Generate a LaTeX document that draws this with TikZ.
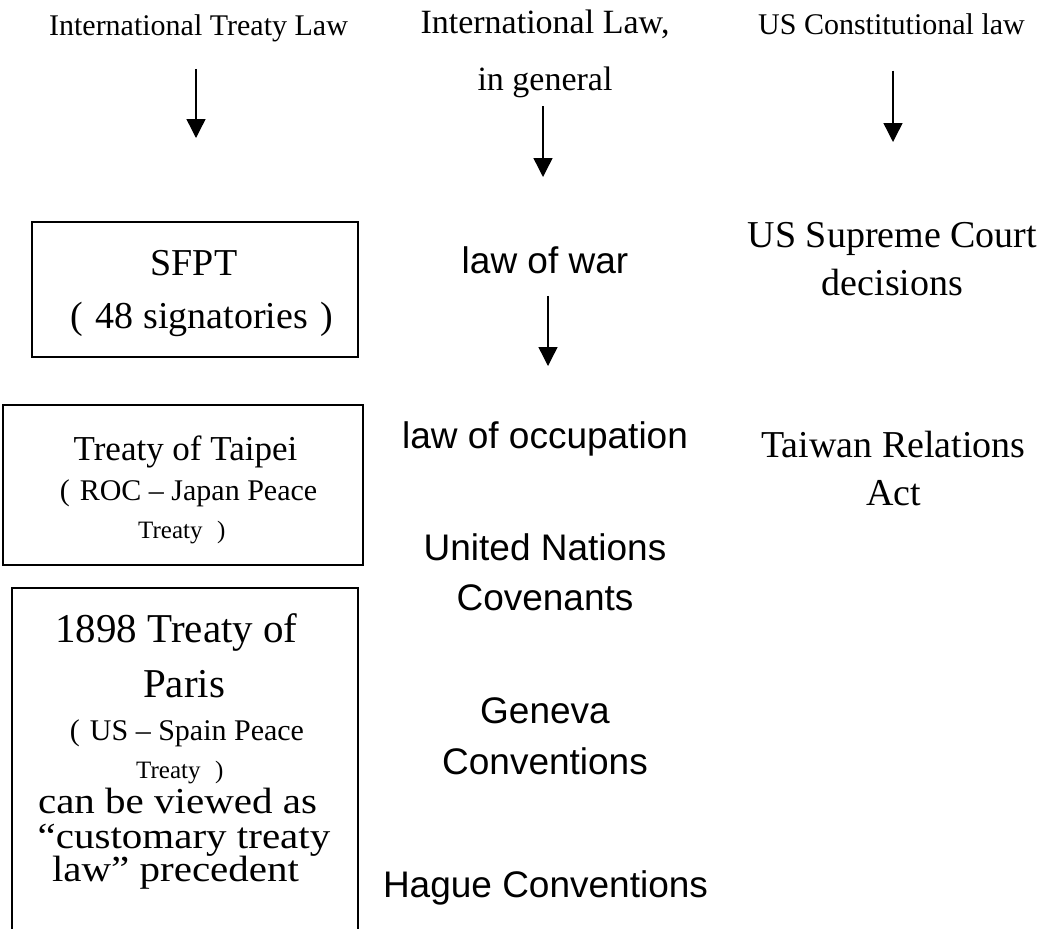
\documentclass[tikz,border=0pt]{standalone}
\usepackage{fontspec}
\setmainfont{Liberation Serif}
\newfontfamily\arialfont{Liberation Sans}
\newfontfamily\wideserif[FakeStretch=1.12]{Liberation Serif}
\usetikzlibrary{arrows.meta}
\newcommand{\fwl}{\makebox[1em]{(}}
\newcommand{\fwr}{\makebox[1em]{)}}

\begin{document}
\begin{tikzpicture}
[x=0.5pt,y=-0.5pt,>={Triangle[width=9.5pt,length=9.5pt]},
txt/.style={inner sep=0pt,anchor=base},
hd/.style={txt,font=\fontsize{15}{18}\selectfont},
hdbig/.style={txt,font=\fontsize{17}{20}\selectfont},
mid/.style={txt,font=\arialfont\fontsize{18.5}{22}\selectfont},
rgt/.style={txt,font=\fontsize{19}{23}\selectfont},
tpa/.style={txt,font=\fontsize{17.5}{21}\selectfont},
small/.style={txt,font=\fontsize{15}{18}\selectfont},
tiny/.style={txt,font=\fontsize{12.5}{15}\selectfont},
par/.style={txt,font=\fontsize{20.5}{24}\selectfont},
wide/.style={txt,font=\wideserif\fontsize{18.3}{21}\selectfont},
box/.style={draw,line width=1pt,inner sep=0pt},
arr/.style={->,line width=0.7pt}]
\path[use as bounding box,fill=white] (0,0) rectangle (1049,928);

\node[hd] (itl) at (198.5,35) {International Treaty Law};
\node[hdbig] (il) at (545,33) {International Law,};
\node[hdbig] (ilgen) at (545,90) {in general};
\node[hd] (usc) at (891.5,34) {US Constitutional law};

\coordinate (itlend) at (196,138);
\coordinate (ilend) at (543,177);
\coordinate (uscend) at (893,142);
\draw[arr,shorten <=13.5pt] (itl.south -| itlend) -- (itlend);
\draw[arr,shorten <=4.3pt] (ilgen.south -| ilend) -- (ilend);
\draw[arr,shorten <=18pt] (usc.south -| uscend) -- (uscend);

\node[box,minimum width=163pt,minimum height=67.5pt] (sfptbox) at (195,289.5) {};
\node[rgt] (sfpt) at (194,275) {SFPT};
\node[rgt] (sfptsig) at (202,328) {\fwl48 signatories\fwr};

\node[box,minimum width=180pt,minimum height=80pt] (taipeibox) at (183,485) {};
\node[tpa] (taipei) at (185.5,460) {Treaty of Taipei};
\node[small] (roc) at (183.5,500) {\fwl ROC – Japan Peace};
\node[tiny] (roctreaty) at (186,538) {Treaty \fwr};

\node[box,minimum width=173pt,minimum height=186pt] (parisbox) at (185,774) {};
\node[par] (paris) at (176.5,642) {1898 Treaty of};
\node[par] (paris2) at (184,697) {Paris};
\node[small] (spain) at (182,740) {\fwl US – Spain Peace};
\node[tiny] (spaintreaty) at (184,778) {Treaty \fwr};
\node[wide] (view) at (177.5,813) {can be viewed as};
\node[wide] (view2) at (184,848) {“customary treaty};
\node[wide] (view3) at (175.5,881) {law” precedent};

\node[mid] (war) at (545,273) {law of war};
\coordinate (warend) at (548,366);
\draw[arr,shorten <=11pt] (war.south -| warend) -- (warend);
\node[mid] (occ) at (545,448) {law of occupation};
\node[mid] (un) at (545,560) {United Nations};
\node[mid] (uncov) at (545,610) {Covenants};
\node[mid] (gen) at (545,723) {Geneva};
\node[mid] (genconv) at (545,774) {Conventions};
\node[mid] (hague) at (545.5,897) {Hague Conventions};

\node[rgt] (court) at (892.5,247) {US Supreme Court};
\node[rgt] (courtdec) at (892.5,295) {decisions};
\node[rgt] (tra) at (893.5,457) {Taiwan Relations};
\node[rgt] (traact) at (893.5,505) {Act};
\end{tikzpicture}
\end{document}
